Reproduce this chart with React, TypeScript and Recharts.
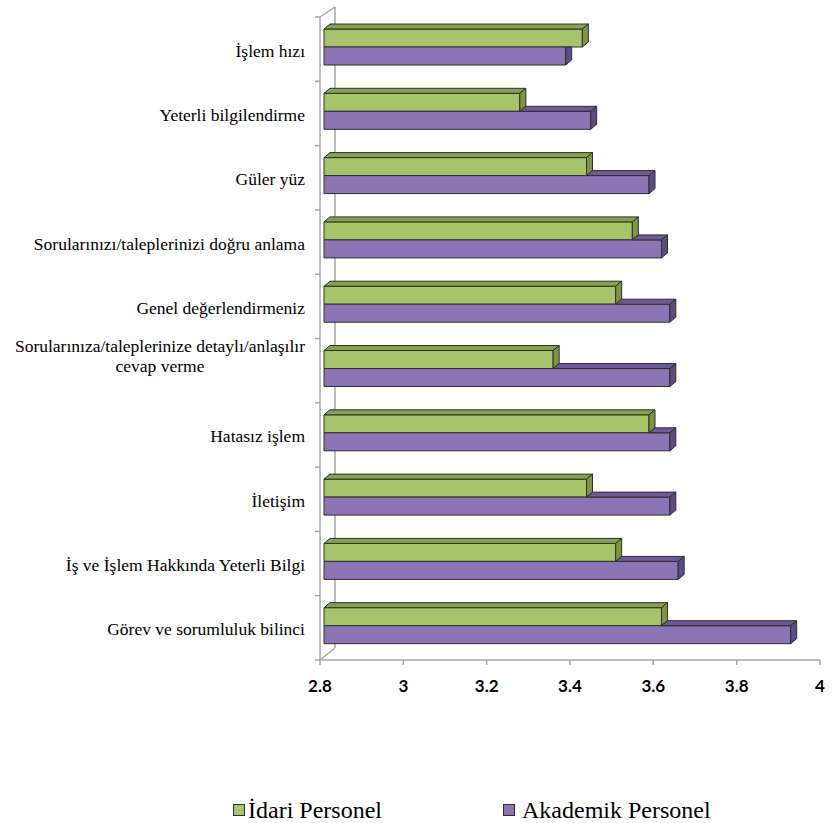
import React from 'react';
import { BarChart, Bar, XAxis, YAxis, Legend, Customized } from 'recharts';

const categories = [
  'İşlem hızı',
  'Yeterli bilgilendirme',
  'Güler yüz',
  'Sorularınızı/taleplerinizi doğru anlama',
  'Genel değerlendirmeniz',
  'Sorularınıza/taleplerinize detaylı/anlaşılır cevap verme',
  'Hatasız işlem',
  'İletişim',
  'İş ve İşlem Hakkında Yeterli Bilgi',
  'Görev ve sorumluluk bilinci',
];
const idariValues = [3.42, 3.27, 3.43, 3.54, 3.5, 3.35, 3.58, 3.43, 3.5, 3.61];
const akademikValues = [3.38, 3.44, 3.58, 3.61, 3.63, 3.63, 3.63, 3.63, 3.65, 3.92];
const xTicks = [2.8, 3, 3.2, 3.4, 3.6, 3.8, 4];
const seriesNames = ['İdari Personel', 'Akademik Personel'];

const data = categories.map((name, i) => ({
  name,
  idari: idariValues[i],
  akademik: akademikValues[i],
}));

const W = 835;
const H = 823;
const TOP = 17;
const AXIS_Y = 660;
const AXIS_X = 320;
const BAND = (AXIS_Y - TOP) / categories.length;
const MIN = 2.8;

// 3D depth of the bars
const DX = 6;
const DY = 5;
const SHIFT_X = 4;
const SHIFT_Y = -2;

const GREEN = { front: '#a8c46b', top: '#87a24c', side: '#7c9643' };
const PURPLE = { front: '#8c74b5', top: '#6d5996', side: '#5e4b85' };
const EDGE = '#2e2e2e';
const WALL = '#a6a6a6';
const SERIF = '"Liberation Serif", "Times New Roman", Tinos, serif';
const LABEL_SIZE = 17.5;

const pts = (arr: number[][]) => arr.map((p) => p.join(',')).join(' ');

const IdariShape = (props: any) => {
  const { x, y, width, height } = props;
  const x0 = x + SHIFT_X;
  const x1 = x + width + SHIFT_X;
  const y0 = y + SHIFT_Y;
  const y1 = y0 + height;
  return (
    <g stroke={EDGE} strokeWidth={1} strokeLinejoin="round">
      <rect x={x0} y={y0} width={x1 - x0} height={height} fill={GREEN.front} />
      <polygon fill={GREEN.top} points={pts([[x0, y0], [x0 + DX, y0 - DY], [x1 + DX, y0 - DY], [x1, y0]])} />
      <polygon fill={GREEN.side} points={pts([[x1, y0], [x1 + DX, y0 - DY], [x1 + DX, y1 - DY], [x1, y1]])} />
    </g>
  );
};

const AkademikShape = (props: any) => {
  const { x, y, width, height, payload } = props;
  const x0 = x + SHIFT_X;
  const x1 = x + width + SHIFT_X;
  const y0 = y + SHIFT_Y;
  const y1 = y0 + height;
  const perUnit = width / (payload.akademik - MIN);
  const gx1 = x0 + (payload.idari - MIN) * perUnit;
  const longer = x1 > gx1;
  return (
    <g stroke={EDGE} strokeWidth={1} strokeLinejoin="round">
      <rect x={x0} y={y0} width={x1 - x0} height={height} fill={PURPLE.front} />
      {longer && (
        <polygon fill={PURPLE.top} points={pts([[gx1, y0], [gx1 + DX, y0 - DY], [x1 + DX, y0 - DY], [x1, y0]])} />
      )}
      {longer ? (
        <polygon fill={PURPLE.side} points={pts([[x1, y0], [x1 + DX, y0 - DY], [x1 + DX, y1 - DY], [x1, y1]])} />
      ) : (
        <polygon fill={PURPLE.side} points={pts([[x1, y0], [x1 + DX, y0], [x1 + DX, y1 - DY], [x1, y1]])} />
      )}
    </g>
  );
};

let measureCtx: CanvasRenderingContext2D | null = null;
const measure = (text: string, font: string) => {
  if (!measureCtx) measureCtx = document.createElement('canvas').getContext('2d');
  if (!measureCtx) return text.length * 8;
  measureCtx.font = font;
  return measureCtx.measureText(text).width;
};

const wrap = (text: string, max = 44) => {
  const words = text.split(' ');
  const lines: string[] = [];
  let cur = '';
  words.forEach((w) => {
    const next = cur ? cur + ' ' + w : w;
    if (next.length > max && cur) {
      lines.push(cur);
      cur = w;
    } else {
      cur = next;
    }
  });
  if (cur) lines.push(cur);
  return lines;
};

const CategoryTick = (props: any) => {
  const { x, y, payload, index } = props;
  const lines = wrap(String(payload.value));
  const tickStyle = { stroke: WALL, strokeWidth: 1.5 };
  const marks = (
    <>
      <line x1={AXIS_X - 5} x2={AXIS_X} y1={y - BAND / 2} y2={y - BAND / 2} {...tickStyle} />
      {index === categories.length - 1 && (
        <line x1={AXIS_X - 5} x2={AXIS_X} y1={y + BAND / 2} y2={y + BAND / 2} {...tickStyle} />
      )}
    </>
  );
  const textStyle = { fontFamily: SERIF, fontSize: LABEL_SIZE };
  if (lines.length === 1) {
    return (
      <g>
        {marks}
        <text x={x} y={y + 7.5} textAnchor="end" style={textStyle} fill="#000">
          {lines[0]}
        </text>
      </g>
    );
  }
  const widest = Math.max(...lines.map((l) => measure(l, `${LABEL_SIZE}px ${SERIF}`)));
  const cx = x - widest / 2;
  return (
    <g>
      {marks}
      <text x={cx} y={y - 18.5} textAnchor="middle" style={textStyle} fill="#000">
        {lines.map((l, i) => (
          <tspan key={i} x={cx} dy={i === 0 ? 0 : 20}>
            {l}
          </tspan>
        ))}
      </text>
    </g>
  );
};

const Walls = () => (
  <g stroke={WALL} strokeWidth={1.5} fill="none">
    <line x1={AXIS_X + 15} y1={TOP - 10} x2={AXIS_X + 15} y2={AXIS_Y - 12} />
    <line x1={AXIS_X} y1={TOP} x2={AXIS_X + 15} y2={TOP - 10} />
    <line x1={AXIS_X} y1={AXIS_Y} x2={AXIS_X + 15} y2={AXIS_Y - 12} />
  </g>
);

const LegendContent = () => {
  const colors = [GREEN.front, PURPLE.front];
  const lefts = [233, 503];
  return (
    <div style={{ position: 'relative', height: 26, fontFamily: SERIF, fontSize: 24, color: '#000' }}>
      {seriesNames.map((n, i) => (
        <div
          key={n}
          style={{ position: 'absolute', left: lefts[i], top: 0, height: 26, display: 'flex', alignItems: 'center', whiteSpace: 'nowrap' }}
        >
          <span style={{ display: 'inline-block', width: 10, height: 10, background: colors[i], border: `1px solid ${EDGE}`, marginRight: i === 0 ? 3 : 7 }} />
          <span>{n}</span>
        </div>
      ))}
    </div>
  );
};

const App = () => {
  return (
    <div style={{ width: W, height: H, position: 'relative', background: '#fff' }}>
      <style>{'body{margin:0;}'}</style>
      <BarChart
        width={W}
        height={H}
        data={data}
        layout="vertical"
        margin={{ top: TOP, right: W - 820, bottom: H - AXIS_Y - 40, left: 0 }}
        barSize={18}
        barGap={0}
      >
        <Customized component={Walls} />
        <XAxis
          type="number"
          domain={[MIN, 4]}
          ticks={xTicks}
          allowDataOverflow
          height={40}
          axisLine={{ stroke: WALL, strokeWidth: 1.5 }}
          tickLine={{ stroke: WALL, strokeWidth: 1.5 }}
          tickSize={5}
          tickMargin={15}
          tick={{ fontFamily: 'Lato, "Open Sans", sans-serif', fontWeight: 700, fontSize: 17, fill: '#000' }}
        />
        <YAxis
          type="category"
          dataKey="name"
          width={AXIS_X}
          axisLine={{ stroke: WALL, strokeWidth: 1.5 }}
          tickLine={false}
          tickSize={0}
          tickMargin={15}
          interval={0}
          tick={<CategoryTick />}
        />
        <Bar dataKey="idari" name={seriesNames[0]} fill={GREEN.front} shape={<IdariShape />} isAnimationActive={false} />
        <Bar dataKey="akademik" name={seriesNames[1]} fill={PURPLE.front} shape={<AkademikShape />} isAnimationActive={false} />
        <Legend
          layout="horizontal"
          verticalAlign="middle"
          align="center"
          content={<LegendContent />}
          wrapperStyle={{ top: 797, left: 0, width: W, height: 26 }}
        />
      </BarChart>
    </div>
  );
};

export default App;
